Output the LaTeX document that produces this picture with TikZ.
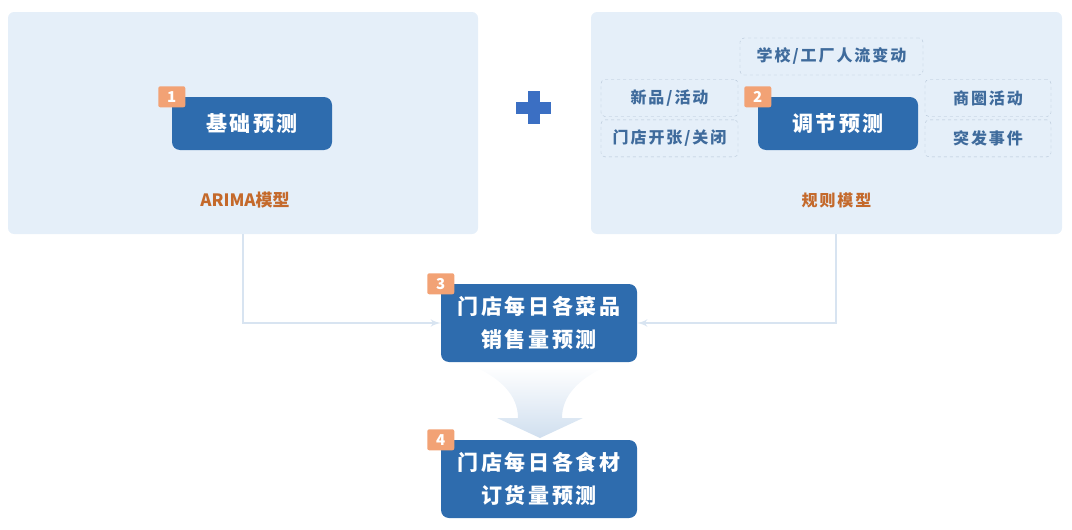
\documentclass[tikz,border=0pt]{standalone}
\usepackage{fontspec}
\usepackage{xcolor}
\usepackage{tikz}
\usetikzlibrary{shapes,arrows,positioning}
\setmainfont{Noto Sans CJK SC}
\newfontfamily\cjkwide[LetterSpace=12]{Noto Sans CJK SC}
\definecolor{panelblue}{HTML}{E5EFF9}
\definecolor{boxblue}{HTML}{2E6CAE}
\definecolor{badgeorange}{HTML}{F2A275}
\definecolor{textorange}{HTML}{C4692B}
\definecolor{factortext}{HTML}{3F6B9C}
\definecolor{dashgray}{HTML}{B4C4D6}
\definecolor{linkblue}{HTML}{D8E4F1}
\definecolor{fanblue}{HTML}{D0DFEF}
\definecolor{plusblue}{HTML}{3B6FC3}
\tikzstyle{panel} = [rectangle, fill=panelblue, rounded corners=6pt,
    minimum width=470pt, minimum height=222pt, inner sep=0pt]
\tikzstyle{block} = [rectangle, fill=boxblue, rounded corners=8pt, text=white,
    font=\cjkwide\bfseries\fontsize{21}{24}\selectfont, text centered,
    minimum width=160pt, minimum height=53pt, inner sep=0pt]
\tikzstyle{bigblock} = [block, font=\cjkwide\bfseries\fontsize{21}{33}\selectfont,
    align=center, minimum width=196pt, minimum height=78pt]
\tikzstyle{badge} = [rectangle, fill=badgeorange, rounded corners=2pt, text=white,
    font=\bfseries\fontsize{15}{15}\selectfont, minimum width=27pt, minimum height=21pt, inner sep=0pt]
\tikzstyle{factor} = [rectangle, draw=dashgray, dashed, rounded corners=4pt, text=factortext,
    font=\cjkwide\bfseries\fontsize{16}{18}\selectfont, minimum height=37pt, inner sep=0pt]
\tikzstyle{model} = [text=textorange, font=\bfseries\fontsize{17}{18}\selectfont]
\tikzstyle{line} = [draw, -latex', linkblue, line width=2.5pt]

\begin{document}
\begin{tikzpicture}[x=1pt, y=-1pt, node distance = 3pt]
      \useasboundingbox (0,0) rectangle (1072,530);
      % Panels
      \node [panel] (arimapanel) at (243,123) {};
      \node [panel, minimum width=471pt] (rulepanel) at (826.5,123) {};
      \node [model] (arimalabel) at (245,200) {ARIMA模型};
      \node [model, font=\cjkwide\bfseries\fontsize{16}{18}\selectfont] (rulelabel) at (836.5,200) {规则模型};
      % Plus sign
      \fill [plusblue] (516,101.5) rectangle (551,113.5);
      \fill [plusblue] (527.5,91) rectangle (539.5,124);
      % Forecast steps
      \node [block] (base) at (252,123.5) {基础预测};
      \node [block] (adjust) at (838,123.5) {调节预测};
      \node [factor, minimum width=183pt] (school) at (831.5,56.5) {学校/工厂人流变动};
      \node [factor, minimum width=137pt] (newitem) at (669.5,98) {新品/活动};
      \node [factor, minimum width=137pt, below= of newitem] (shopopen) {门店开张/关闭};
      \node [factor, minimum width=126pt] (district) at (988,98) {商圈活动};
      \node [factor, minimum width=126pt, below= of district] (incident) {突发事件};
      \node [bigblock] (sales) at (539,323) {门店每日各菜品\\销售量预测};
      % Fan arrow
      \shade [top color=white, bottom color=fanblue] (473,366) .. controls (500,378) and (518,395) .. (518,418)
          -- (497,418) -- (540,438) -- (583,418) -- (562,418) .. controls (562,395) and (580,378) .. (607,366) -- cycle;
      \node [bigblock] (order) at (539,479) {门店每日各食材\\订货量预测};
      % Badges
      \node [badge] (badgeA) at (base.north west) {1};
      \node [badge] (badgeB) at (adjust.north west) {2};
      \node [badge] (badgeC) at (sales.north west) {3};
      \node [badge] (badgeD) at (order.north west) {4};
      % Draw edges
      \path [line] (arimapanel.south) |- (sales.west);
      \path [line] ([xshift=9.5pt]rulepanel.south) |- (sales.east);
  \end{tikzpicture}
\end{document}
